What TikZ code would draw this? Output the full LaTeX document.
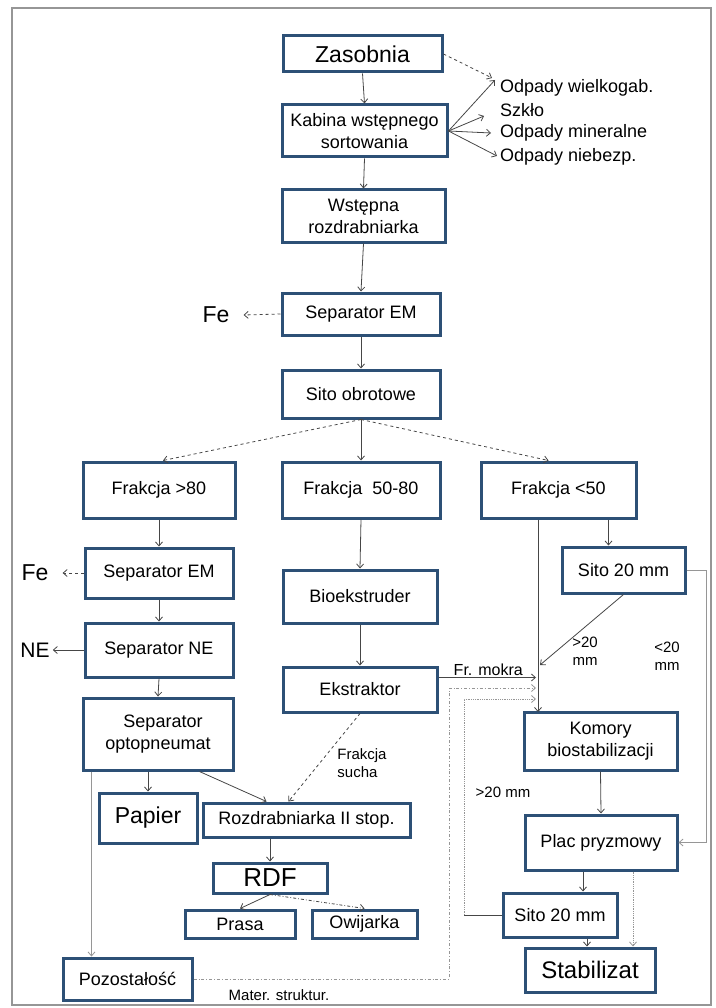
\documentclass[tikz,border=0pt]{standalone}
\usepackage{fontspec}
\setmainfont{Liberation Sans}
\usetikzlibrary{arrows.meta}
\definecolor{boxblue}{RGB}{45,80,118}
\definecolor{linegray}{RGB}{70,70,70}
\definecolor{lightline}{RGB}{150,150,150}
\tikzset{
  box/.style 2 args={draw=boxblue, line width=3pt, fill=white, inner sep=0pt,
    minimum width=#1, minimum height=#2, align=center, font=\fontsize{18}{22}\selectfont},
  bigbox/.style={font=\fontsize{23}{26}\selectfont},
  lbl/.style={font=\fontsize{18}{22}\selectfont, inner sep=0pt, align=left},
  small/.style={font=\fontsize{15}{18}\selectfont, inner sep=0pt, align=center},
  flow/.style={-{Straight Barb[length=4pt,width=7pt]}, draw=linegray, line width=0.8pt},
  faint/.style={draw=lightline, line width=0.8pt},
}
\begin{document}
\begin{tikzpicture}[x=1pt,y=-1pt]
\useasboundingbox (0,0) rectangle (715,1008);
\draw[lightline, line width=1.2pt] (12,8) rectangle (711,1005);

\node[box={159pt}{36pt}, bigbox] (zas) at (362.5,54) {Zasobnia};
\node[box={165pt}{52pt}] (kab) at (364.5,131) {Kabina wstępnego\\sortowania};
\node[box={163pt}{52pt}] (wst) at (363.5,216) {Wstępna\\rozdrabniarka};
\node[box={158pt}{42pt}] (sem) at (361,314) {Separator EM};
\node[box={158pt}{48pt}] (sit) at (361,394) {Sito obrotowe};

\node[lbl, anchor=west] (wlk) at (500,88) {Odpady wielkogab.};
\node[lbl, anchor=west] (szk) at (500,110) {Szkło};
\node[lbl, anchor=west] (min) at (500,133) {Odpady mineralne};
\node[lbl, anchor=west] (nbz) at (500,157) {Odpady niebezp.};
\node[lbl, bigbox] (fe1) at (216,315) {Fe};

\node[box={152pt}{56pt}] (fr80) at (159,490) {Frakcja >80};
\node[box={158pt}{56pt}] (fr5080) at (361,490) {Frakcja\ \ 50-80};
\node[box={155pt}{56pt}] (fr50) at (558.5,490) {Frakcja <50};

\node[box={148pt}{50pt}] (sem2) at (159,573) {Separator EM};
\node[box={148pt}{54pt}] (sne) at (159,650) {Separator NE};
\node[box={150pt}{72pt}] (sop) at (158,734) {\ \ Separator\\optopneumat};
\node[box={98pt}{50pt}, bigbox] (pap) at (148,818) {Papier};
\node[box={207pt}{34pt}] (roz) at (306.5,820) {Rozdrabniarka II stop.};
\node[box={114pt}{30pt}, font=\fontsize{26}{28}\selectfont] (rdf) at (270,878) {RDF};
\node[box={110pt}{28pt}] (pra) at (240,924) {Prasa};
\node[box={105pt}{28pt}] (owi) at (364.5,924) {Owijarka};
\node[box={129pt}{42pt}] (poz) at (127.5,979) {Pozostałość};
\node[lbl, bigbox] (fe2) at (35,573) {Fe};
\node[lbl, font=\fontsize{21}{24}\selectfont] (ne) at (35,650) {NE};

\node[box={154pt}{53pt}] (bio) at (360,596.5) {Bioekstruder};
\node[box={154pt}{45pt}] (eks) at (360,689.5) {Ekstraktor};

\node[box={123pt}{46pt}] (s20a) at (623.5,570) {Sito 20 mm};
\node[box={153pt}{58pt}] (kom) at (600.5,741) {Komory\\biostabilizacji};
\node[box={152pt}{55pt}] (plac) at (601,842.5) {Plac pryzmowy};
\node[box={114pt}{44pt}] (s20b) at (560,915) {Sito 20 mm};
\node[box={130pt}{44pt}, font=\fontsize{24}{26}\selectfont] (stab) at (590,970) {Stabilizat};

\coordinate (wlot) at (538,712);
\coordinate (j20) at (540,665);
\coordinate (prawy) at (706,570);
\coordinate (mx) at (449,688);
\coordinate (sx) at (464,699);

\draw[flow] (zas.south) -- (kab.north);
\draw[flow] (kab.south) -- (wst.north);
\draw[flow] (wst.south) -- (sem.north);
\draw[flow] (sem.south) -- (sit.north);
\draw[flow, dashed] (zas.east) -- ([shift={(-8pt,10pt)}]wlk.west);
\draw[flow] (kab.east) -- ([shift={(-5pt,8pt)}]wlk.west);
\draw[flow] (kab.east) -- ([shift={(-16pt,-6pt)}]szk.west);
\draw[flow] (kab.east) -- ([xshift=-9pt]min.west);
\draw[flow] (kab.east) -- ([shift={(-3pt,1pt)}]nbz.west);
\draw[flow, dashed] (sem.west) -- ([xshift=14pt]fe1.east);

\draw[flow, dashed] (sit.south) -- ([xshift=4pt]fr80.north);
\draw[flow] (sit.south) -- (fr5080.north);
\draw[flow, dashed] (sit.south) -- ([xshift=-10pt]fr50.north);

\draw[flow] (fr80.south) -- (sem2.north);
\draw[flow] (sem2.south) -- (sne.north);
\draw[flow] (sne.south) -- (sop.north);
\draw[flow, dashed] (sem2.west) -- ([xshift=14pt]fe2.east);
\draw[flow] (sne.west) -- ([xshift=3pt]ne.east);
\draw[flow] (sop.south -| pap.north) -- (pap.north);
\draw[flow] ([xshift=-35pt]sop.south east) -- ([xshift=-40pt]roz.north);
\draw[flow, faint] ([xshift=10pt]sop.south west) -- ([xshift=10pt]sop.south west |- poz.north);
\draw[flow] (rdf.north |- roz.south) -- (rdf.north);
\draw[flow] (rdf.south) -- (pra.north);
\draw[flow, dash dot] (rdf.south) -- (owi.north);

\draw[flow] (fr5080.south) -- (bio.north);
\draw[flow] (bio.south) -- (eks.north);
\draw[flow, dashed] (eks.south) -- ([xshift=-18pt]roz.north);
\node[small, align=left] (sucha) at (362,763) {Frakcja\\sucha};

\draw[flow] ([xshift=-15pt]s20a.north |- fr50.south) -- ([xshift=-15pt]s20a.north);
\draw[flow] (wlot |- fr50.south) -- (wlot);
\draw[flow] (s20a.south) -- (j20);
\node[small] (gt20) at (585,651) {>20\\mm};
\node[small] (lt20) at (667,656) {<20\\mm};
\draw[flow, faint] (s20a.east) -- (prawy) |- (plac.east);
\draw[flow, shorten >=2pt] ([yshift=12pt]eks.east) -- ([yshift=12pt]eks.east -| wlot)
  node[midway, above=1pt, small, font=\fontsize{16}{18}\selectfont] {Fr. mokra};
\draw[flow, faint, dash dot, shorten >=2pt] (poz.east) -| (mx) -- (mx -| wlot);
\node[small] (mat) at (279,995) {Mater. struktur.};
\draw[linegray, line width=0.8pt] (s20b.west) -- (sx |- s20b.west);
\draw[flow, faint, densely dotted, shorten >=2pt] (sx |- s20b.west) -- (sx) -- (sx -| wlot);
\node[small] (gt20b) at (503,792) {>20 mm};

\draw[flow] (kom.south) -- (plac.north);
\draw[flow] ([xshift=-18pt]plac.south) -- ([xshift=-18pt]plac.south |- s20b.north);
\draw[flow, faint, densely dotted] ([xshift=32pt]plac.south) -- ([xshift=32pt]plac.south |- stab.north);
\draw[flow] ([xshift=27pt]s20b.south) -- ([xshift=27pt]s20b.south |- stab.north);
\end{tikzpicture}
\end{document}
